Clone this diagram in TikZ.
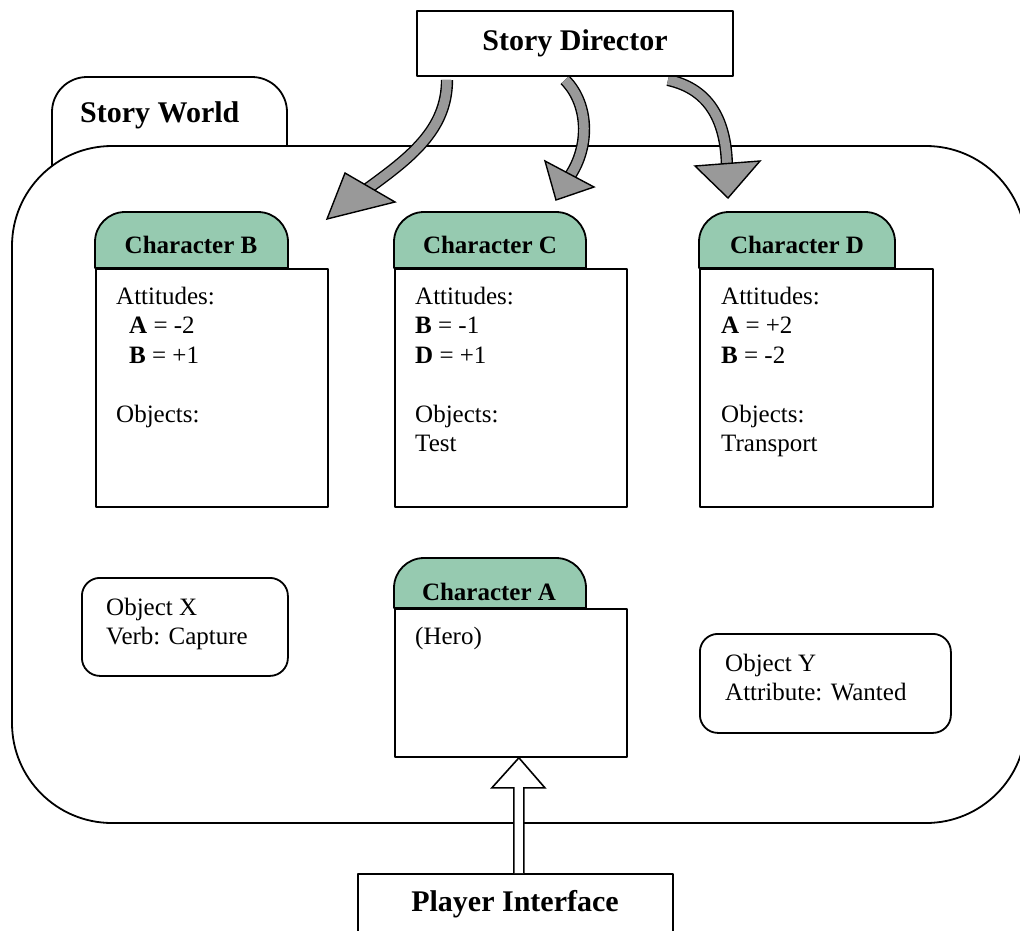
\documentclass[tikz,border=0pt]{standalone}
\usepackage{fontspec}
\setmainfont{Liberation Serif}
\usetikzlibrary{calc}
\definecolor{tabgreen}{RGB}{150,202,176}
\definecolor{shaftgray}{RGB}{153,153,153}
\pgfdeclarelayer{worldlayer}
\pgfdeclarelayer{arrowlayer}
\pgfsetlayers{worldlayer,arrowlayer,main}
\begin{document}
\begin{tikzpicture}[x=1pt,y=-1pt,line join=round,
  outline/.style={draw=black,line width=1.8pt},
  bigtitle/.style={font=\fontsize{30}{36}\selectfont\bfseries},
  tabtitle/.style={font=\fontsize{25}{30}\selectfont\bfseries,inner sep=0pt,anchor=base},
  bodytext/.style={font=\fontsize{25}{29.5}\selectfont,inner sep=0pt,anchor=north west,align=left},
  cardbody/.style={outline,fill=white,anchor=north west,inner sep=0pt},
  objbox/.style={outline,fill=white,rounded corners=18pt,anchor=north west,inner sep=0pt},
  bigarrow/.style={draw=black,line width=1.4pt,double=shaftgray,double distance=9.5pt},
  bighead/.style={draw=black,line width=1.4pt,fill=shaftgray},
]
\useasboundingbox (0,0) rectangle (1020,930);

% Story World: tab behind the rounded main area
\begin{pgfonlayer}{worldlayer}
\draw[outline,fill=white] (52,200) [rounded corners=35pt] -- (52,77) -- (287,77) [sharp corners] -- (287,200) -- cycle;
\node[outline,fill=white,rounded corners=100pt,minimum width=1014pt,minimum height=677pt,inner sep=0pt] (world) at (519,484.5) {};
\end{pgfonlayer}
\node[bigtitle,inner sep=0pt,anchor=base west] (worldttl) at (80,122) {Story World};

% Story Director
\node[outline,fill=white,minimum width=316pt,minimum height=65pt,inner sep=0pt,bigtitle] (director) at (575,43.5) {Story Director};

% curved director arrows (shafts start under the director box)
\coordinate (h1) at (365,190.5);
\coordinate (h2) at (567,180);
\coordinate (h3) at (727,170);
\begin{pgfonlayer}{arrowlayer}
\draw[bigarrow] ([xshift=-128pt,yshift=-3pt]director.south) .. controls (447,130) and (410,158) .. (h1);
\draw[bigarrow] ([xshift=-10pt,yshift=-3pt]director.south) .. controls (590,105) and (590,150) .. (h2);
\draw[bigarrow] ([xshift=93pt,yshift=-3pt]director.south) .. controls (705,88) and (727,115) .. (h3);
\draw[bighead] (345,173) -- (395,202) -- (327,219) -- cycle;
\draw[bighead] (545,161) -- (594,187) -- (556,200) -- cycle;
\draw[bighead] (695,166) -- (760,161) -- (728,198) -- cycle;
\end{pgfonlayer}

% Character B
\draw[outline,fill=tabgreen] (95,268) [rounded corners=30pt] -- (95,212) -- (288,212) [sharp corners] -- (288,268) -- cycle;
\node[cardbody,minimum width=232pt,minimum height=238pt] (cardB) at (95,268) {};
\node[tabtitle] (ttlB) at (191,253) {Character B};
\node[bodytext] (txtB) at (116,284) {\rule{0pt}{20pt}Attitudes:\\\hspace*{13pt}\textbf{A} = -2\\\hspace*{13pt}\textbf{B} = +1\\[29.5pt]Objects:};

% Character C
\draw[outline,fill=tabgreen] (394,268) [rounded corners=30pt] -- (394,212) -- (586,212) [sharp corners] -- (586,268) -- cycle;
\node[cardbody,minimum width=232pt,minimum height=238pt] (cardC) at (394,268) {};
\node[tabtitle] (ttlC) at (490,253) {Character C};
\node[bodytext] (txtC) at (415,284) {\rule{0pt}{20pt}Attitudes:\\\textbf{B} = -1\\\textbf{D} = +1\\[29.5pt]Objects:\\Test};

% Character D
\draw[outline,fill=tabgreen] (699,268) [rounded corners=30pt] -- (699,212) -- (895,212) [sharp corners] -- (895,268) -- cycle;
\node[cardbody,minimum width=233pt,minimum height=238pt] (cardD) at (699,268) {};
\node[tabtitle] (ttlD) at (797,253) {Character D};
\node[bodytext] (txtD) at (721,284) {\rule{0pt}{20pt}Attitudes:\\\textbf{A} = +2\\\textbf{B} = -2\\[29.5pt]Objects:\\Transport};

% Character A
\draw[outline,fill=tabgreen] (394,608) [rounded corners=30pt] -- (394,558) -- (586,558) [sharp corners] -- (586,608) -- cycle;
\node[cardbody,minimum width=232pt,minimum height=148pt] (cardA) at (394,608) {};
\node[tabtitle] (ttlA) at (489,600) {Character A};
\node[bodytext] (txtA) at (415,624) {\rule{0pt}{20pt}(Hero)};

% objects
\node[objbox,minimum width=206pt,minimum height=98pt] (objX) at (81,577) {};
\node[bodytext] (txtX) at (106,595) {\rule{0pt}{20pt}Object X\\Verb: Capture};
\node[objbox,minimum width=251pt,minimum height=99pt] (objY) at (699,633) {};
\node[bodytext] (txtY) at (725,651) {\rule{0pt}{20pt}Object Y\\Attribute: Wanted};

% Player Interface and its hollow arrow into Character A
\node[outline,fill=white,minimum width=315pt,minimum height=70pt,inner sep=0pt,anchor=north west] (pi) at (357,873) {};
\node[bigtitle,inner sep=0pt,anchor=base] (pittl) at (515,911) {Player Interface};
\coordinate (pin) at ([xshift=3.5pt]pi.north);
\coordinate (ptip) at (pin |- cardA.south);
\draw[outline,line width=1.6pt,fill=white,line join=miter]
  ($(pin)+(-5pt,0pt)$) -- ($(ptip)+(-5pt,-30pt)$) -- ($(ptip)+(-27pt,-30pt)$) -- (ptip)
  -- ($(ptip)+(26pt,-30pt)$) -- ($(ptip)+(5pt,-30pt)$) -- ($(pin)+(5pt,0pt)$);
\end{tikzpicture}
\end{document}
